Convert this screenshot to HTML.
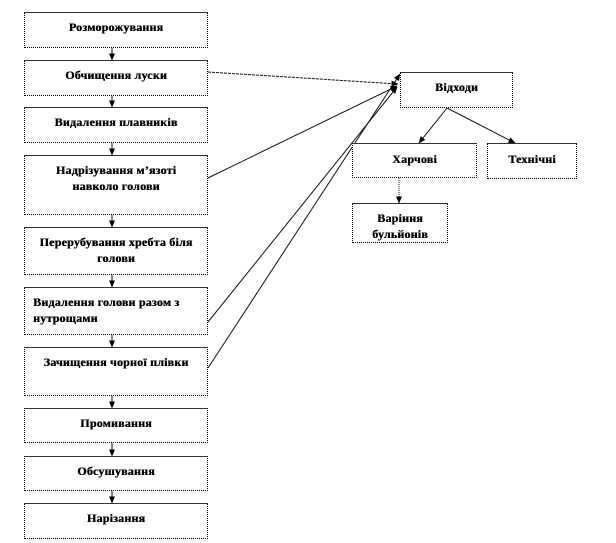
<!DOCTYPE html>
<html>
<head>
<meta charset="utf-8">
<style>
  html,body{margin:0;padding:0;background:#fff;}
  body{width:616px;height:543px;position:relative;overflow:hidden;
       font-family:"Liberation Serif","Noto Serif CJK SC",serif;}
  .b{position:absolute;box-sizing:border-box;background:#fff;
     border:1px dotted #000;border-top:1px solid #333;
     font-weight:bold;font-size:12px;line-height:16px;color:#000;
     letter-spacing:0.2px;text-shadow:0.4px 0 0 #000;
     text-align:center;padding-top:6px;white-space:nowrap;}
  svg{position:absolute;left:0;top:0;}
</style>
</head>
<body>
<svg width="616" height="543" viewBox="0 0 616 543">
  <defs>
    <marker id="a" markerWidth="7" markerHeight="6" refX="6.5" refY="3" orient="auto" markerUnits="userSpaceOnUse">
      <path d="M0,0 L7,3 L0,6 Z" fill="#000"/>
    </marker>
  </defs>
  <g stroke="#111" stroke-width="1" fill="none" marker-end="url(#a)">
    <line x1="112" y1="48" x2="112" y2="60"/>
    <line x1="112" y1="96" x2="112" y2="107"/>
    <line x1="112" y1="143" x2="112" y2="155"/>
    <line x1="112" y1="215" x2="112" y2="227"/>
    <line x1="112" y1="275" x2="112" y2="287"/>
    <line x1="112" y1="335" x2="112" y2="347"/>
    <line x1="112" y1="396" x2="112" y2="408"/>
    <line x1="112" y1="443" x2="112" y2="456"/>
    <line x1="112" y1="491" x2="112" y2="503"/>
    <line x1="208" y1="72" x2="398" y2="84" stroke-dasharray="3,1"/>
    <line x1="208" y1="178" x2="397" y2="86"/>
    <line x1="208" y1="322" x2="397" y2="87"/>
    <line x1="208" y1="368" x2="400" y2="74"/>
    <line x1="447" y1="108" x2="419" y2="143"/>
    <line x1="447" y1="108" x2="515" y2="143"/>
    <line x1="399" y1="178" x2="399" y2="203" stroke-dasharray="1,1"/>
  </g>
</svg>

<div class="b" style="left:24px;top:12px;width:184px;height:36px;">Розморожування</div>
<div class="b" style="left:24px;top:60px;width:184px;height:36px;">Обчищення луски</div>
<div class="b" style="left:24px;top:107px;width:184px;height:36px;">Видалення плавників</div>
<div class="b" style="left:24px;top:155px;width:184px;height:60px;">Надрізування м’язоті<br>навколо голови</div>
<div class="b" style="left:24px;top:227px;width:184px;height:48px;">Перерубування хребта біля<br>голови</div>
<div class="b" style="left:24px;top:287px;width:184px;height:48px;text-align:left;padding-left:8px;">Видалення голови разом з<br>нутрощами</div>
<div class="b" style="left:24px;top:347px;width:184px;height:49px;">Зачищення чорної плівки</div>
<div class="b" style="left:24px;top:408px;width:184px;height:35px;">Промивання</div>
<div class="b" style="left:24px;top:456px;width:184px;height:35px;">Обсушування</div>
<div class="b" style="left:24px;top:503px;width:184px;height:36px;">Нарізання</div>

<div class="b" style="left:400px;top:72px;width:113px;height:36px;">Відходи</div>
<div class="b" style="left:352px;top:143px;width:125px;height:35px;padding-top:7px;">Харчові</div>
<div class="b" style="left:487px;top:143px;width:90px;height:36px;padding-top:7px;">Технічні</div>
<div class="b" style="left:352px;top:203px;width:96px;height:40px;">Варіння<br>бульйонів</div>
</body>
</html>
